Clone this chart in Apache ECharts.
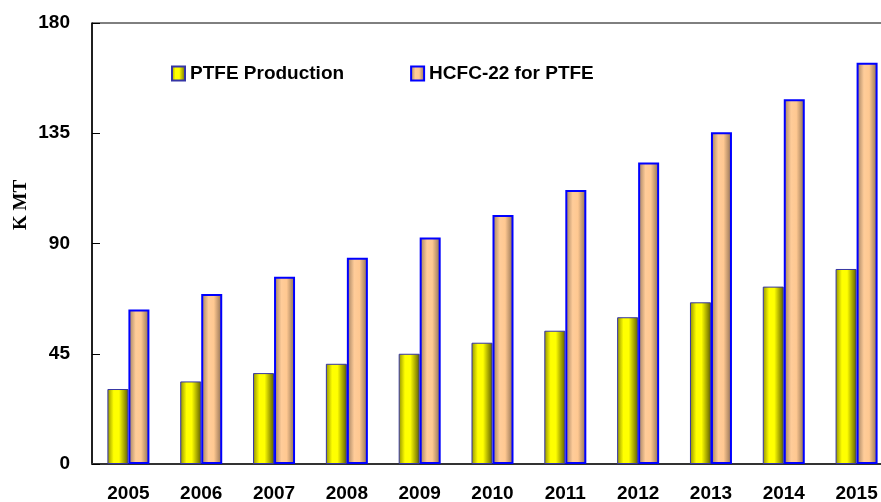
<!DOCTYPE html>
<html>
<head>
<meta charset="utf-8">
<script src="https://cdn.jsdelivr.net/npm/echarts@6/dist/echarts.min.js"></script>
<style>
html,body{margin:0;padding:0;background:#fff;}
#chart{width:881px;height:502px;}
</style>
</head>
<body>
<div id="chart"></div>
<script>
var years = ['2005','2006','2007','2008','2009','2010','2011','2012','2013','2014','2015'];
var ptfeProduction = [30.6, 33.7, 37.1, 40.9, 45.0, 49.5, 54.4, 59.9, 66.0, 72.4, 79.6];
var hcfcForPtfe = [63.1, 69.4, 76.4, 84.2, 92.4, 101.6, 111.8, 123.1, 135.4, 148.9, 163.8];
var yTicks = [0, 45, 90, 135, 180];
var seriesNames = ['PTFE Production', 'HCFC-22 for PTFE'];
var yAxisName = 'K MT';

var chart = echarts.init(document.getElementById('chart'), null, {renderer: 'canvas'});
var font = '"Liberation Sans", Arial, sans-serif';

function grad(stops) {
  return new echarts.graphic.LinearGradient(0, 0, 1, 0, stops);
}

chart.setOption({
  animation: false,
  backgroundColor: '#ffffff',
  grid: {
    left: 92, top: 23, width: 801, bottom: 38,
    outerBoundsMode: 'none', containLabel: false,
    show: true, borderColor: '#000', borderWidth: 1, backgroundColor: 'transparent'
  },
  legend: {
    left: 171, top: 64, padding: 0,
    icon: 'rect',
    itemWidth: 13, itemHeight: 14, itemGap: 66,
    textStyle: {fontFamily: font, fontWeight: 'bold', fontSize: 19, color: '#000'},
    data: seriesNames
  },
  graphic: [{
    type: 'text', x: 21, y: 205, rotation: Math.PI / 2,
    style: {
      text: yAxisName, fontFamily: '"Liberation Serif", "Times New Roman", serif',
      fontWeight: 'bold', fontSize: 19, fill: '#000',
      align: 'center', verticalAlign: 'middle'
    }
  }],
  xAxis: {
    type: 'category', data: years,
    axisLine: {lineStyle: {color: '#333', width: 2}},
    axisTick: {inside: true, length: 6, lineStyle: {color: '#555', width: 1}},
    axisLabel: {fontFamily: font, fontWeight: 'bold', fontSize: 19, color: '#000', margin: 20},
    splitLine: {show: false}
  },
  yAxis: {
    type: 'value', min: yTicks[0], max: yTicks[yTicks.length - 1], interval: yTicks[1] - yTicks[0],
    axisLine: {show: true, lineStyle: {color: '#000', width: 1.5}},
    axisTick: {show: true, inside: true, length: 8, lineStyle: {color: '#000'}},
    axisLabel: {fontFamily: font, fontWeight: 'bold', fontSize: 19, color: '#000', margin: 22},
    splitLine: {show: false}
  },
  series: [{
    name: seriesNames[0], type: 'bar', data: ptfeProduction,
    barWidth: 21, barGap: '0%',
    itemStyle: {
      color: grad([{offset: 0, color: '#8f8f00'}, {offset: 0.3, color: '#ffff00'}, {offset: 0.55, color: '#ffff00'}, {offset: 1, color: '#5c5c00'}]),
      borderColor: '#3535a5', borderWidth: 1
    }
  }, {
    name: seriesNames[1], type: 'bar', data: hcfcForPtfe,
    barWidth: 21, barGap: '0%',
    itemStyle: {
      color: grad([{offset: 0, color: '#9a7a5c'}, {offset: 0.35, color: '#ffcc99'}, {offset: 0.6, color: '#ffc891'}, {offset: 1, color: '#86694f'}]),
      borderColor: '#0000ff', borderWidth: 2
    }
  }]
});
</script>
</body>
</html>
